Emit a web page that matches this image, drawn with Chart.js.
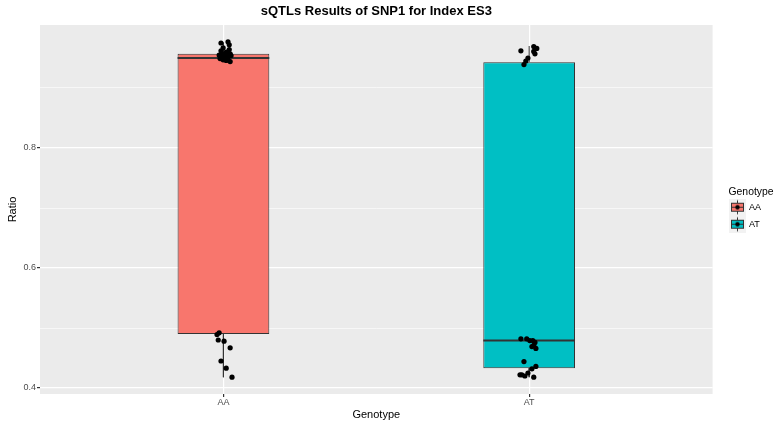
<!DOCTYPE html>
<html>
<head>
<meta charset="utf-8">
<title>sQTLs Results of SNP1 for Index ES3</title>
<script src="https://cdn.jsdelivr.net/npm/chart.js@4.4.0/dist/chart.umd.min.js"></script>
<style>
  html, body { margin: 0; padding: 0; background: #ffffff; }
  canvas { display: block; }
</style>
</head>
<body>
<canvas id="boxChart" width="776" height="428"></canvas>
<script>
// categories and colours
var genotypes = ['AA', 'AT'];
var genotypeColors = ['#F8766D', '#00BFC4'];

// box statistics per genotype
var whiskerLow = [0.418, 0.418];
var q1 = [0.490, 0.433];
var medians = [0.950, 0.479];
var q3 = [0.957, 0.943];
var whiskerHigh = [0.976, 0.970];

// jittered observations (x = genotype position + jitter)
var aaJitterX = [0.992, 1.015, 1.019, 0.999, 0.992, 1.009, 1.019, 0.996, 1.022, 0.986, 1.009,
                 1.025, 1.002, 1.015, 0.996, 1.006, 0.989, 1.015, 0.999, 1.009, 1.022,
                 0.986, 0.979, 0.983, 1.002, 1.022, 0.992, 1.009, 1.028];
var aaRatio = [0.975, 0.977, 0.972, 0.967, 0.962, 0.960, 0.964, 0.957, 0.957, 0.955, 0.955,
               0.954, 0.954, 0.952, 0.950, 0.950, 0.949, 0.947, 0.947, 0.946, 0.944,
               0.492, 0.489, 0.480, 0.478, 0.467, 0.445, 0.433, 0.418];
var atJitterX = [1.973, 2.015, 2.025, 2.015, 2.019, 1.996, 1.989, 1.983,
                 1.973, 1.992, 2.002, 2.012, 2.019, 2.015, 2.009, 2.022,
                 1.983, 2.009, 2.022, 1.976, 1.986, 1.970, 2.015, 1.996];
var atRatio = [0.962, 0.969, 0.966, 0.961, 0.957, 0.950, 0.945, 0.939,
               0.482, 0.482, 0.479, 0.479, 0.476, 0.471, 0.469, 0.466,
               0.444, 0.432, 0.436, 0.422, 0.420, 0.422, 0.418, 0.425];

// axis ticks
var yMajorTicks = [0.4, 0.6, 0.8];
var yMinorTicks = [0.5, 0.7, 0.9];

var BOX_HALF = 0.15;
var INK = '#333333';

Chart.defaults.font.family = "'Liberation Sans', Arial, sans-serif";

function toPoints(xs, ys) {
    return xs.map(function (x, i) { return {x: x, y: ys[i]}; });
}

function isMajor(v) {
    return yMajorTicks.some(function (m) { return Math.abs(m - v) < 1e-9; });
}

// little boxplot key for the legend
function makeLegendKey(fill) {
    var c = document.createElement('canvas');
    c.width = 23;
    c.height = 17;
    var k = c.getContext('2d');
    k.fillStyle = '#F2F2F2';
    k.fillRect(0, 0, 17, 17);
    k.strokeStyle = INK;
    k.lineWidth = 1;
    k.beginPath();
    k.moveTo(8.5, 1.5); k.lineTo(8.5, 4.5);
    k.moveTo(8.5, 12.5); k.lineTo(8.5, 15.5);
    k.stroke();
    k.fillStyle = fill;
    k.fillRect(2.5, 4.5, 12, 8);
    k.strokeRect(2.5, 4.5, 12, 8);
    k.beginPath();
    k.moveTo(2.5, 8.5); k.lineTo(14.5, 8.5);
    k.stroke();
    k.fillStyle = '#000000';
    k.beginPath();
    k.arc(8.5, 8.5, 2.2, 0, Math.PI * 2);
    k.fill();
    return c;
}
var legendKeys = genotypeColors.map(makeLegendKey);

var datasets = [];

// jitter points on top
datasets.push({
    type: 'scatter', label: 'AA points', order: 0,
    data: toPoints(aaJitterX, aaRatio),
    backgroundColor: '#000000', borderWidth: 0, pointRadius: 2.6, pointHoverRadius: 2.6
});
datasets.push({
    type: 'scatter', label: 'AT points', order: 0,
    data: toPoints(atJitterX, atRatio),
    backgroundColor: '#000000', borderWidth: 0, pointRadius: 2.6, pointHoverRadius: 2.6
});

genotypes.forEach(function (g, i) {
    var pos = i + 1;
    // median
    datasets.push({
        type: 'line', label: g + ' median', order: 1,
        data: [{x: pos - BOX_HALF, y: medians[i]}, {x: pos + BOX_HALF, y: medians[i]}],
        borderColor: INK, borderWidth: 2, pointRadius: 0
    });
    // box from q1 to q3
    datasets.push({
        type: 'bar', label: g, order: 2,
        data: [{x: pos, y: [q1[i], q3[i]]}],
        backgroundColor: genotypeColors[i], borderColor: INK, borderWidth: 1,
        borderSkipped: false, grouped: false, barPercentage: BOX_HALF * 2, categoryPercentage: 1
    });
    // whiskers
    datasets.push({
        type: 'line', label: g + ' whiskers', order: 3,
        data: [{x: pos, y: q3[i]}, {x: pos, y: whiskerHigh[i]}, {x: pos, y: null},
               {x: pos, y: q1[i]}, {x: pos, y: whiskerLow[i]}],
        borderColor: INK, borderWidth: 1, pointRadius: 0, spanGaps: false
    });
});

var panelBackground = {
    id: 'panelBackground',
    beforeDraw: function (chart) {
        var a = chart.chartArea;
        var ctx = chart.ctx;
        ctx.save();
        ctx.fillStyle = '#EBEBEB';
        ctx.fillRect(a.left, a.top, a.right - a.left, a.bottom - a.top);
        ctx.restore();
    }
};

var ctx = document.getElementById('boxChart').getContext('2d');
var chart = new Chart(ctx, {
    type: 'scatter',
    data: { datasets: datasets },
    plugins: [panelBackground],
    options: {
        responsive: false,
        animation: false,
        devicePixelRatio: 1,
        layout: { padding: 0 },
        scales: {
            x: {
                type: 'linear', min: 0.4, max: 2.6, offset: false,
                afterBuildTicks: function (s) {
                    s.ticks = genotypes.map(function (g, i) { return {value: i + 1}; });
                },
                afterFit: function (s) { s.height = 34; },
                ticks: {
                    autoSkip: false, maxRotation: 0, padding: 0,
                    color: '#4D4D4D', font: { size: 9 },
                    callback: function (v) { return genotypes[Math.round(v) - 1]; }
                },
                grid: { color: '#FFFFFF', lineWidth: 1.2, tickColor: INK, tickLength: 3, offset: false },
                border: { display: false },
                title: {
                    display: true, text: 'Genotype', color: '#000000',
                    font: { size: 11 }, padding: { top: 0, bottom: 6.4 }
                }
            },
            y: {
                type: 'linear', min: 0.390, max: 1.005,
                afterBuildTicks: function (s) {
                    s.ticks = yMajorTicks.concat(yMinorTicks).sort().map(function (v) { return {value: v}; });
                },
                afterFit: function (s) { s.width = 40; },
                ticks: {
                    autoSkip: false, padding: 1,
                    color: '#4D4D4D', font: { size: 9 },
                    callback: function (v) { return isMajor(v) ? v.toFixed(1) : ''; }
                },
                grid: {
                    color: '#FFFFFF', tickLength: 3,
                    lineWidth: function (c) { return isMajor(c.tick.value) ? 1.2 : 0.6; },
                    tickColor: function (c) { return isMajor(c.tick.value) ? INK : 'rgba(0,0,0,0)'; }
                },
                border: { display: false },
                title: {
                    display: true, text: 'Ratio', color: '#000000',
                    font: { size: 11 }, padding: { top: 6.7, bottom: 0 }
                }
            },
            gapRight: {
                type: 'linear', position: 'right', display: true,
                grid: { display: false }, ticks: { display: false }, border: { display: false },
                afterFit: function (s) { s.width = 15.9; }
            }
        },
        plugins: {
            title: {
                display: true, fullSize: false,
                text: 'sQTLs Results of SNP1 for Index ES3',
                color: '#000000', font: { size: 13, weight: 'bold' },
                padding: { top: 4, bottom: 5.4 }
            },
            legend: {
                position: 'right', align: 'center', fullSize: false,
                title: {
                    display: true, text: 'Genotype', position: 'start', color: '#000000',
                    font: { size: 10.4 }, padding: { top: 5, bottom: -5 }
                },
                labels: {
                    usePointStyle: true, pointStyleWidth: 8, padding: 8,
                    color: '#000000', font: { size: 9 },
                    generateLabels: function () {
                        return genotypes.map(function (g, i) {
                            return {
                                // two trailing spaces widen the legend box so its title is not clipped
                                text: g + '\u00a0\u00a0', pointStyle: legendKeys[i],
                                fillStyle: genotypeColors[i], strokeStyle: INK,
                                lineWidth: 0, hidden: false, datasetIndex: i
                            };
                        });
                    }
                }
            },
            tooltip: { enabled: false }
        }
    }
});
</script>
</body>
</html>
